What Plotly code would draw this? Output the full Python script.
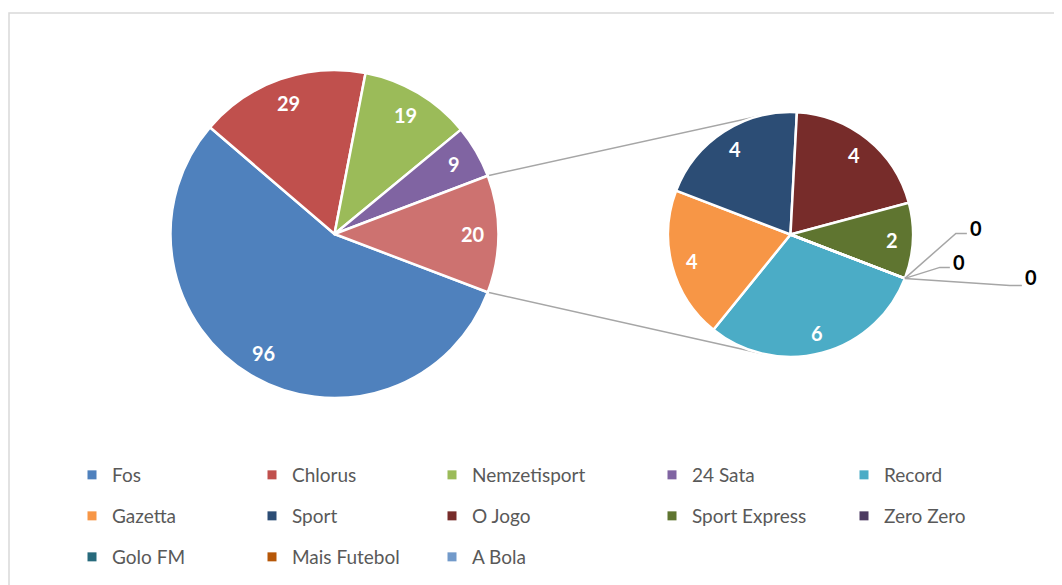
import numpy as np
import plotly.graph_objects as go

# data
main_labels = ['Fos', 'Chlorus', 'Nemzetisport', '24 Sata', 'Other']
main_values = [96, 29, 19, 9, 20]
main_colors = ['#4F81BD', '#C0504D', '#9BBB59', '#8064A2', '#CD7270']

sub_labels = ['Record', 'Gazetta', 'Sport', 'O Jogo', 'Sport Express', 'Zero Zero', 'Golo FM', 'Mais Futebol']
sub_values = [6, 4, 4, 4, 2, 0, 0, 0]
sub_colors = ['#4BACC6', '#F79646', '#2C4D75', '#772C2A', '#5F7530', '#4D3B62', '#276A7C', '#B65708']

legend_names = ['Fos', 'Chlorus', 'Nemzetisport', '24 Sata', 'Record',
                'Gazetta', 'Sport', 'O Jogo', 'Sport Express', 'Zero Zero',
                'Golo FM', 'Mais Futebol', 'A Bola']
legend_colors = ['#4F81BD', '#C0504D', '#9BBB59', '#8064A2', '#4BACC6',
                 '#F79646', '#2C4D75', '#772C2A', '#5F7530', '#4D3B62',
                 '#276A7C', '#B65708', '#729ACA']

# page body has an 8px margin, so the figure is drawn 8px in from the window corner
OFF = 8
W, H = 1062 - OFF, 585 - OFF
FONT = 'Lato'

# pie geometry in window pixels (center, radius)
c1, r1 = (334.5, 234.0), 164.0
c2, r2 = (790.5, 234.5), 122.5
sub_start = 111.0  # degrees clockwise from 12 o'clock

def px(x, y):
    return (x - OFF) / W, 1 - (y - OFF) / H

def dom(c, r):
    x0, y1 = px(c[0] - r, c[1] + r)
    x1, y0 = px(c[0] + r, c[1] - r)
    return dict(x=[x0, x1], y=[y1, y0])

def on_circle(c, r, ang):
    a = np.radians(ang)
    return c[0] + r * np.sin(a), c[1] - r * np.cos(a)

def label(x, y, text, color):
    p = px(x, y)
    return dict(x=p[0], y=p[1], xref='paper', yref='paper', text=text, showarrow=False,
                xanchor='center', yanchor='middle',
                font=dict(family=FONT, size=20, color=color, weight='bold'))

total = sum(main_values)
rot_main = 90 + 180 * main_values[-1] / total

fig = go.Figure()
fig.add_trace(go.Pie(labels=main_labels, values=main_values, sort=False, direction='clockwise',
                     rotation=rot_main, domain=dom(c1, r1), textinfo='none', showlegend=False,
                     marker=dict(colors=main_colors, line=dict(color='white', width=2.5))))
fig.add_trace(go.Pie(labels=sub_labels, values=sub_values, sort=False, direction='clockwise',
                     rotation=sub_start, domain=dom(c2, r2), textinfo='none', showlegend=False,
                     marker=dict(colors=sub_colors, line=dict(color='white', width=2.5))))

annos = []
shapes = []

# slice labels
cum = 0
for v in main_values:
    mid = rot_main + 360 * (cum + v / 2) / total
    annos.append(label(*on_circle(c1, 0.845 * r1, mid), str(v), 'white'))
    cum += v

sub_total = sum(sub_values)
cum = 0
for v in sub_values:
    if v > 0:
        mid = sub_start + 360 * (cum + v / 2) / sub_total
        annos.append(label(*on_circle(c2, 0.83 * r2, mid), str(v), 'white'))
    cum += v

# zero labels with leader lines
ox, oy = on_circle(c2, r2, sub_start + 360 * sum(sub_values[:5]) / sub_total)
leaders = [(51, -45, 62, 71, -50), (35, -11, 45, 54, -16), (105, 7, 117, 126, -1)]
for v, (ex, ey, tx, lx, ly) in zip([v for v in sub_values if v == 0], leaders):
    p0 = px(ox, oy); p1 = px(ox + ex, oy + ey); p2 = px(ox + tx, oy + ey)
    shapes.append(dict(type='path', xref='paper', yref='paper',
                       path=f'M {p0[0]},{p0[1]} L {p1[0]},{p1[1]} L {p2[0]},{p2[1]}',
                       line=dict(color='#A6A6A6', width=1.5)))
    annos.append(label(ox + lx, oy + ly, str(v), 'black'))

# connector lines (tangent from "Other" slice corners to secondary pie)
half = 180 * main_values[-1] / total
for ang, sgn in [(90 - half, -1), (90 + half, 1)]:
    P = on_circle(c1, r1, ang)
    dx, dy = c2[0] - P[0], c2[1] - P[1]
    d = np.hypot(dx, dy)
    th = np.arctan2(dy, dx) + sgn * np.arcsin(r2 / d)
    L = np.sqrt(d ** 2 - r2 ** 2)
    T = (P[0] + L * np.cos(th), P[1] + L * np.sin(th))
    a, b = px(*P), px(*T)
    shapes.append(dict(type='line', xref='paper', yref='paper', x0=a[0], y0=a[1], x1=b[0], y1=b[1],
                       line=dict(color='#A6A6A6', width=1.5), layer='below'))

# chart border
bx, by = px(9, 13)
shapes.append(dict(type='rect', xref='paper', yref='paper', x0=bx, y0=by, x1=1.02, y1=-0.02,
                   line=dict(color='#D9D9D9', width=1.5)))

# legend: one small legend per entry
col_x = [112, 292, 472, 692, 884]
row_y = [475, 516, 557]
legends = {}
for i, (name, col) in enumerate(zip(legend_names, legend_colors)):
    key = 'legend' if i == 0 else f'legend{i + 1}'
    fig.add_trace(go.Scatter(x=[None], y=[None], mode='markers', name=name, legend=key,
                             marker=dict(symbol='square', size=9, color=col)))
    lx, ly = px(col_x[i % 5] - 40, row_y[i // 5])
    legends[key] = dict(x=lx, y=ly, xanchor='left', yanchor='middle', bgcolor='rgba(0,0,0,0)',
                        font=dict(family=FONT, size=19, color='#595959'))

fig.update_layout(width=W, height=H, margin=dict(l=0, r=0, t=0, b=0),
                  paper_bgcolor='white', plot_bgcolor='white',
                  xaxis=dict(visible=False), yaxis=dict(visible=False),
                  annotations=annos, shapes=shapes, **legends)
fig.write_html('out.html')
